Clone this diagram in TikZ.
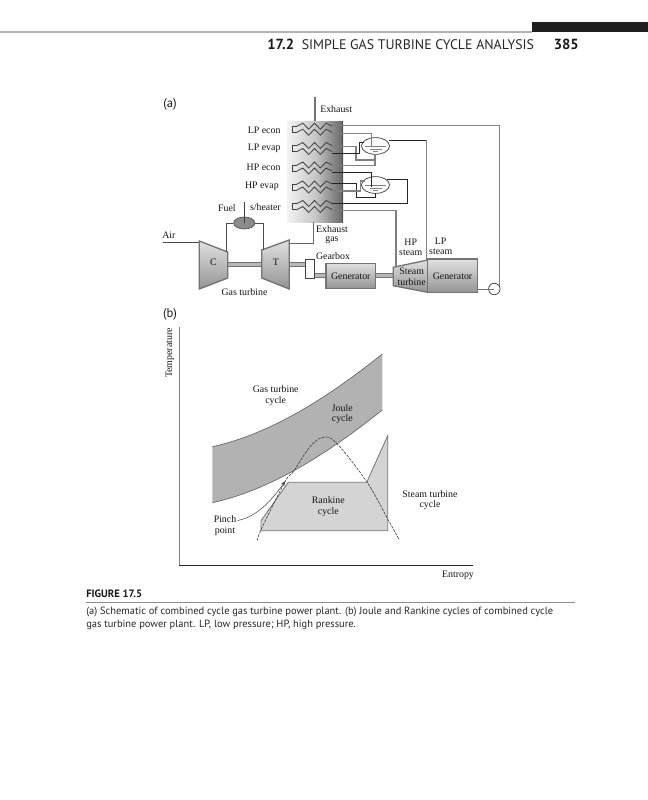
\documentclass[tikz,border=0pt]{standalone}
\usepackage{fontspec}
\setmainfont{Liberation Serif}
\newfontfamily\hdfont{PT Sans}
\usetikzlibrary{arrows.meta,calc,shapes.geometric}
\definecolor{pipegray}{gray}{0.5}
\definecolor{pipedark}{gray}{0.15}
\tikzset{
  lbl/.style={font=\fontsize{7.4}{8}\selectfont, text=black!92, inner sep=0pt},
  sanslbl/.style={font=\hdfont\fontsize{9.5}{10}\selectfont, text=black!90, inner sep=0pt},
  graypipe/.style={draw=pipegray, line width=0.85pt},
  darkpipe/.style={draw=pipedark, line width=0.7pt},
  machine/.style={draw=black!55, line width=1pt, top color=black!12, bottom color=black!42},
  shaft/.style={draw=black!55, line width=0.5pt, fill=black!28},
  drum/.style={draw=black!80, line width=0.5pt, minimum width=21pt, minimum height=12.6pt, inner sep=0pt, ellipse},
  water/.style={draw=black!50, line width=0.7pt}
}
\newcommand{\coilpair}[1]{%
  \draw[black!75, line width=0.6pt] (297,#1+0.5) -- (292.8,#1+0.5) -- (292.8,#1+6.5) -- (297,#1+6.5);
  \draw[black!75, line width=0.6pt] (297,#1+0.5) -- ++(5.83,-3) -- ++(5.83,6) -- ++(5.83,-6) -- ++(5.83,6) -- ++(5.83,-6) -- ++(5.83,3);
  \draw[black!75, line width=0.6pt] (297,#1+6.5) -- ++(5.83,-3) -- ++(5.83,6) -- ++(5.83,-6) -- ++(5.83,6) -- ++(5.83,-6) -- ++(5.83,3);
}
\begin{document}
\begin{tikzpicture}[x=0.75pt,y=-0.75pt]
\useasboundingbox (0,0) rectangle (648,800);
% --- page header
\fill[black!88] (532,21.5) rectangle (648,32);
\draw[black!30, line width=1pt] (0,32) -- (532,32);
\node[anchor=west, inner sep=0pt, font=\hdfont\bfseries\fontsize{11}{12}\selectfont, text=black!90] (secno) at (267,44.5) {17.2};
\node[anchor=west, inner sep=0pt, font=\hdfont\fontsize{10.4}{12}\selectfont, text=black!85] (sectitle) at (301.5,44.5) {SIMPLE GAS TURBINE CYCLE ANALYSIS};
\node[anchor=west, inner sep=0pt, font=\hdfont\bfseries\fontsize{11}{12}\selectfont, text=black!90] (pageno) at (553.5,44.5) {385};
% --- (a)
\node[sanslbl] (laba) at (170,104.5) {(a)};
\node[sanslbl] (labb) at (170,314) {(b)};
% HRSG casing
\fill[left color=black!5, right color=black!60, middle color=black!22] (287,121) rectangle (343,222);
\draw[black!70, line width=0.9pt] (342.7,121) -- (342.7,222);
\draw[black!55, line width=1pt] (315,97) -- (315,121);
\node[lbl, anchor=west] (exh) at (320,109.5) {Exhaust};
\foreach \cy in {125.7,145,164.5,183.5,203}{\coilpair{\cy}}
% coil labels
\node[lbl, anchor=east] at (280.7,130) {LP econ};
\node[lbl, anchor=east] at (280.7,148.5) {LP evap};
\node[lbl, anchor=east] at (280.7,167.5) {HP econ};
\node[lbl, anchor=east] at (279,186) {HP evap};
\node[lbl, anchor=east] at (281,207.5) {s/heater};
\node[lbl, anchor=east] at (236,208) {Fuel};
% drums
\node[drum] (drumA) at (375.5,146) {};
\node[drum] (drumB) at (375.5,185) {};
\foreach \d in {drumA,drumB}{
  \draw[water] ($(\d.center)+(-10.5,0.8)$) -- ($(\d.center)+(10.5,0.8)$);
  \draw[water] ($(\d.center)+(-6,3)$) -- ($(\d.center)+(6,3)$);
  \draw[water] ($(\d.center)+(-2.5,5)$) -- ($(\d.center)+(2.5,5)$);
}
% pipes
\coordinate (c1a) at (332,125.7);
\draw[graypipe] (c1a) -- (499.5,125.7) -- (499.5,286);
\draw[graypipe] (332,133.2) -- (371.7,133.2) -- (371.7,147);
\draw[graypipe] (332,146.3) -- (356,146.3) -- (356,160) -- (375,160) -- (375,154.2);
\draw[darkpipe] (332,153) -- (359.5,153) -- (359.5,142) -- (364,142);
\draw[graypipe] (332,165.3) -- (375,165.3) -- (375,160);
\draw[darkpipe] (332,172.7) -- (371.7,172.7) -- (371.7,187);
\draw[darkpipe] (332,183.5) -- (356,183.5) -- (356,197.5) -- (375,197.5) -- (375,193.3);
\draw[graypipe] (332,191) -- (360.5,191) -- (360.5,181) -- (365,181);
\draw[darkpipe] (386.5,179.3) -- (407.3,179.3) -- (407.3,203.3) -- (332,203.3);
\draw[darkpipe] (389,140) -- (426.7,140);
\draw[graypipe] (426.7,140) -- (426.7,260);
\draw[graypipe] (332,210.3) -- (396,210.3) -- (396,267);
% gas turbine
\node[lbl] at (332,229) {Exhaust};
\node[lbl] at (332,240.5) {gas};
\node[lbl, anchor=west] at (162,235) {Air};
\draw[black!70, line width=0.6pt] (163,242) -- (199.3,242);
\draw[shaft] (227.7,262) rectangle (261.7,266.5);
\draw[shaft] (289.3,262) rectangle (305.7,266.5);
\draw[shaft] (314.7,273.3) rectangle (326,277.3);
\draw[shaft] (375.7,273.3) rectangle (393.3,277.3);
\path[machine] (199.3,241) -- (227.7,252) -- (227.7,278) -- (199.3,289) -- cycle;
\path[machine] (261.7,250) -- (289.3,240) -- (289.3,289) -- (261.7,278) -- cycle;
\node[lbl] (compC) at (213.5,262) {C};
\node[lbl] (turbT) at (276,262) {T};
\node[draw=black!75, fill=white, line width=0.6pt, minimum width=6.75pt, minimum height=14.2pt, inner sep=0pt] (gear) at (310.2,268.8) {};
\node[lbl] at (333,256) {Gearbox};
\path[machine] (326,263.3) rectangle (375.7,288.3);
\node[lbl] (genA) at (350.8,276) {Generator};
\path[machine] (393.3,267.3) -- (427.7,260) -- (427.7,292.3) -- (393.3,285.7) -- cycle;
\path[machine] (427.7,259) rectangle (477.3,292.3);
\node[lbl] at (411.7,271) {Steam};
\node[lbl] at (411.7,282) {turbine};
\node[lbl] (genB) at (452.5,276) {Generator};
\node[lbl] at (410.7,242) {HP};
\node[lbl] at (410.7,253) {steam};
\node[lbl] at (440.7,241) {LP};
\node[lbl] at (440.7,252) {steam};
\node[lbl] at (244.5,292) {Gas turbine};
% fuel
\node[draw=black!70, fill=black!45, ellipse, minimum width=16pt, minimum height=9pt, inner sep=0pt, line width=0.5pt] (burner) at (244.3,223) {};
\coordinate (fueltop) at (244.3,201.7);
\draw[black!75, line width=0.6pt] (fueltop) -- (burner.center);
\draw[black!70, line width=0.6pt] (burner.west) -- (226,223) -- (226,252);
\draw[black!70, line width=0.6pt] (burner.east) -- (263.5,223) -- (263.5,250);
\draw[black!60, line width=0.7pt] (289.3,243.3) -- (313.3,243.3) -- (313.3,222);
% meter circle
\node[draw=black!80, circle, minimum size=8.6pt, inner sep=0pt, line width=0.5pt] (meter) at (494.3,289) {};
\draw[black!55, line width=0.7pt] (477.3,289) -- (meter.center);
% --- (b)
\fill[black!30] (212.3,446.7) .. controls (269,434.3) and (325.7,399.3) .. (382.3,354) -- (382.3,410) .. controls (325.7,455.3) and (269,490.3) .. (212.3,502.7) -- cycle;
\draw[black!60, line width=0.5pt] (212.3,446.7) .. controls (269,434.3) and (325.7,399.3) .. (382.3,354);
\draw[black!60, line width=0.5pt] (212.3,502.7) .. controls (269,490.3) and (325.7,455.3) .. (382.3,410);
\fill[black!17] (261,530.7) -- (261,520.7) -- (288.3,482.3) -- (366.7,482.3) -- (387.7,435.7) -- (387.7,530.7) -- cycle;
\draw[black!55, line width=0.6pt] (261,530.7) -- (261,520.7) -- (288.3,482.3) -- (366.7,482.3) -- (387.7,435.7) -- (387.7,530.7) -- cycle;
\draw[black!80, line width=0.42pt, dash pattern=on 2.2pt off 0.8pt] plot[smooth, tension=0.6] coordinates {(257.3,540.7) (261.7,528.3) (285,481.7) (293.3,471.7) (310,446.7) (323.3,437.3) (336.7,443.3) (366.7,481.7) (388.3,520) (399.3,540)};
\coordinate (pinchtip) at (285.5,481);
\node[lbl] (pinch) at (225,519) {Pinch};
\node[lbl] (point) at (225,531) {point};
\draw[black!75, line width=0.4pt, -{Stealth[length=4pt,width=3pt]}] (pinch.east) ++(1,1.5) .. controls (258,517) and (274,497) .. (pinchtip);
\draw[black!50, line width=1.1pt] (179.3,327) -- (179.3,566);
\draw[black!85, line width=0.6pt] (179,565.7) -- (473,565.7);
\node[lbl, rotate=90] at (170,353) {Temperature};
\node[lbl] at (458,575.5) {Entropy};
\node[lbl] at (275.7,389) {Gas turbine};
\node[lbl] at (275.7,401) {cycle};
\node[lbl] at (342.3,408.5) {Joule};
\node[lbl] at (342.3,419.5) {cycle};
\node[lbl] at (328.3,500.5) {Rankine};
\node[lbl] at (328.3,512) {cycle};
\node[lbl] at (430,494) {Steam turbine};
\node[lbl] at (430,505) {cycle};
% --- caption
\node[anchor=west, inner sep=0pt, font=\hdfont\bfseries\fontsize{8}{9}\selectfont, text=black!90] (figno) at (86,593.5) {FIGURE 17.5};
\draw[black!45, line width=0.5pt] (86,602) -- (575,602);
\node[anchor=west, inner sep=0pt, font=\hdfont\fontsize{7.85}{9}\selectfont, text=black!85] (cap1) at (86,612) {(a) Schematic of combined cycle gas turbine power plant. (b) Joule and Rankine cycles of combined cycle};
\node[anchor=west, inner sep=0pt, font=\hdfont\fontsize{7.85}{9}\selectfont, text=black!85] (cap2) at (86,625) {gas turbine power plant. LP, low pressure; HP, high pressure.};
\end{tikzpicture}
\end{document}
